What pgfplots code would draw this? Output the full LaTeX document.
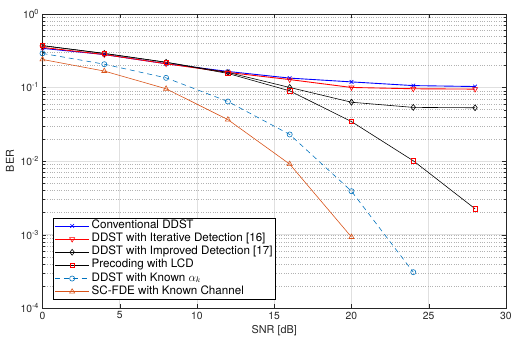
\documentclass[border=0pt]{standalone}
\usepackage{fontspec}
\setmainfont{TeX Gyre Heros}
\usepackage{pgfplots}
\pgfplotsset{compat=1.18}
\definecolor{mblue}{rgb}{0,0.447,0.741}
\definecolor{morange}{rgb}{0.85,0.325,0.098}
\newcommand{\lf}{\fontsize{11.8}{12}\selectfont}
\begin{document}
\begin{tikzpicture}
\begin{axis}[
 width=469bp, height=298bp, scale only axis,
 ymode=log, xmin=0, xmax=30, ymin=1e-4, ymax=1,
 xtick={0,5,...,30},
 ytick={1e-4,1e-3,1e-2,1e-1,1},
 yticklabels={10\textsuperscript{-4},10\textsuperscript{-3},10\textsuperscript{-2},10\textsuperscript{-1},10\textsuperscript{0}},
 /pgf/number format/assume math mode=true,
 grid=both,
 major grid style={black!12, line width=0.5pt},
 minor grid style={black!30, dotted, line width=0.4pt},
 axis line style={black!85, line width=0.5pt},
 major tick length=4bp, minor tick length=2.5bp,
 tick style={black!85},
 tick label style={font=\fontsize{10.5}{11}\selectfont, text=black!85},
 label style={font=\fontsize{11}{12}\selectfont, text=black!85},
 xlabel={SNR [dB]}, ylabel={BER},
 xlabel style={yshift=1bp},
 legend style={font=\lf, at={(0.0235,0.030)}, anchor=south west, draw=black, line width=0.5pt, row sep=0bp, inner sep=1bp,
   nodes={font=\lf, text height=7.3bp, text depth=2.3bp, inner ysep=1.85bp, inner xsep=2bp}},
 legend cell align=left,
 legend image code/.code={\draw[mark repeat=2,mark phase=2] plot coordinates {(0cm,0cm) (0.61cm,0cm) (1.22cm,0cm)};},
 mark options={solid},
]
\addplot[blue, line width=0.9pt, mark=x, mark size=2.6pt, mark options={line width=0.6pt}] coordinates {
(0,0.34) (4,0.28) (8,0.21) (12,0.165) (16,0.134) (20,0.119) (24,0.106) (28,0.103)};
\addlegendentry{\lf Conventional DDST}
\addplot[red, line width=0.9pt, mark=triangle, mark size=3pt, mark options={rotate=180,solid,line width=0.6pt}] coordinates {
(0,0.35) (4,0.28) (8,0.21) (12,0.16) (16,0.128) (20,0.100) (24,0.096) (28,0.095)};
\addlegendentry{\lf DDST with Iterative Detection [16]}
\addplot[black, line width=0.6pt, mark=diamond, mark size=3pt] coordinates {
(0,0.37) (4,0.29) (8,0.22) (12,0.16) (16,0.100) (20,0.063) (24,0.0536) (28,0.053)};
\addlegendentry{\lf DDST with Improved Detection [17]}
\addplot[black, line width=0.6pt, mark=square, mark size=2.2pt, mark options={red,solid}] coordinates {
(0,0.37) (4,0.29) (8,0.22) (12,0.155) (16,0.090) (20,0.0344) (24,0.0101) (28,0.00225)};
\addlegendentry{\lf Precoding with LCD}
\addplot[mblue, line width=0.6pt, dashed, dash pattern=on 5bp off 4bp, mark=o, mark size=2.6pt] coordinates {
(0,0.29) (4,0.207) (8,0.135) (12,0.0645) (16,0.023) (20,0.0039) (24,0.00031)};
\addlegendentry{\lf DDST with Known $\alpha_k$}
\addplot[morange, line width=0.6pt, mark=triangle, mark size=3pt] coordinates {
(0,0.24) (4,0.167) (8,0.096) (12,0.0366) (16,0.0091) (20,0.00093)};
\addlegendentry{\lf SC-FDE with Known Channel}
\end{axis}
\path (current axis.north west) ++(-43bp,14bp);
\end{tikzpicture}
\end{document}
